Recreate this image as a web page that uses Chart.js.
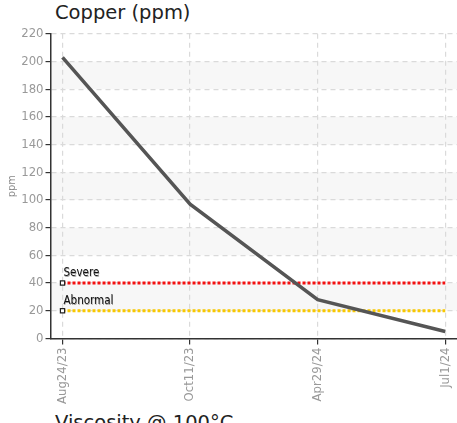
<!DOCTYPE html>
<html>
<head>
<meta charset="utf-8">
<script src="https://cdn.jsdelivr.net/npm/chart.js@4"></script>
<style>
  html, body { margin: 0; padding: 0; background: #fff; width: 457px; height: 423px; overflow: hidden; }
  .title { position: absolute; left: 55px; font-family: "DejaVu Sans", sans-serif; font-size: 19.5px; line-height: 24px; color: #222; }
  #t1 { top: 1px; }
  #t2 { top: 411px; }
  #wrap { position: absolute; left: 0; top: 24px; width: 464px; height: 383px; }
</style>
</head>
<body>
<div class="title" id="t1">Copper (ppm)</div>
<div id="wrap"><canvas id="chart"></canvas></div>
<div class="title" id="t2">Viscosity @ 100°C</div>
<script>
// -----------------------------
// Data
// -----------------------------
const sampleDates = ["Aug24/23", "Oct11/23", "Apr29/24", "Jul1/24"];
const copperPpm = [203, 97, 28, 5];
const severeLimit = [40, 40, 40, 40];
const abnormalLimit = [20, 20, 20, 20];
const limitNames = ["Severe", "Abnormal"];

const condFont = '"Liberation Sans Narrow", "DejaVu Sans Condensed", sans-serif';

function toPoints(arr) {
    return arr.map((v, i) => ({ x: i, y: v }));
}

// alternating light bands behind the grid
const bandsPlugin = {
    id: "bands",
    beforeDraw(chart) {
        const { ctx, chartArea, scales } = chart;
        const ys = scales.y;
        const ticks = ys.ticks.map(t => t.value);
        ctx.save();
        ctx.fillStyle = "#f7f7f7";
        for (let i = 0; i < ticks.length - 1; i++) {
            if (i % 2 === 1) {
                const top = ys.getPixelForValue(ticks[i + 1]);
                const bot = ys.getPixelForValue(ticks[i]);
                ctx.fillRect(chartArea.left, top, chartArea.right - chartArea.left, bot - top);
            }
        }
        ctx.restore();
    }
};

// "Severe" / "Abnormal" captions over the first limit point
const limitLabels = {
    id: "limitLabels",
    afterDatasetsDraw(chart) {
        const { ctx } = chart;
        ctx.save();
        ctx.font = "11.5px " + condFont;
        ctx.textBaseline = "bottom";
        [1, 2].forEach((di, k) => {
            const pt = chart.getDatasetMeta(di).data[0];
            ctx.fillStyle = "rgba(0,0,0,0.35)";
            ctx.fillText(limitNames[k], pt.x + 1.6, pt.y - 3.4);
            ctx.fillStyle = "#111";
            ctx.fillText(limitNames[k], pt.x + 1, pt.y - 4);
        });
        ctx.restore();
    }
};

new Chart(document.getElementById("chart"), {
    type: "line",
    data: {
        datasets: [
            {
                label: "Copper",
                data: toPoints(copperPpm),
                borderColor: "#555",
                borderWidth: 3.5,
                pointRadius: 0,
                tension: 0,
                order: 0
            },
            {
                label: limitNames[0],
                data: toPoints(severeLimit),
                borderColor: "#f41010",
                borderWidth: 3,
                borderDash: [3, 2],
                pointStyle: "rect",
                pointRadius: [3, 0, 0, 0],
                pointBorderColor: "#222",
                pointBorderWidth: 1.2,
                pointBackgroundColor: "#fff",
                order: 1
            },
            {
                label: limitNames[1],
                data: toPoints(abnormalLimit),
                borderColor: "#f8c800",
                borderWidth: 3,
                borderDash: [3, 2],
                pointStyle: "rect",
                pointRadius: [3, 0, 0, 0],
                pointBorderColor: "#222",
                pointBorderWidth: 1.2,
                pointBackgroundColor: "#fff",
                order: 2
            }
        ]
    },
    options: {
        responsive: true,
        maintainAspectRatio: false,
        animation: false,
        layout: { padding: { left: 6, right: 0, top: 4 } },
        plugins: { legend: { display: false }, tooltip: { enabled: false } },
        scales: {
            x: {
                type: "linear",
                min: -0.094,
                max: 3.094,
                ticks: {
                    stepSize: 1,
                    includeBounds: false,
                    autoSkip: false,
                    minRotation: 90,
                    maxRotation: 90,
                    color: "#999",
                    font: { family: condFont, size: 13 },
                    callback: v => sampleDates[v] || ""
                },
                grid: { color: "#dadada", tickColor: "#333", tickLength: 6, tickBorderDash: [], lineWidth: 1.2 },
                border: { color: "#333", width: 1.5, dash: [5, 4] }
            },
            y: {
                min: 0,
                max: 220,
                ticks: {
                    stepSize: 20,
                    color: "#999",
                    font: { family: condFont, size: 13 },
                    padding: 2
                },
                title: {
                    display: true,
                    text: "ppm",
                    color: "#888",
                    font: { family: condFont, size: 11 },
                    padding: 0
                },
                grid: { color: "#dadada", tickColor: "#333", tickLength: 5, tickBorderDash: [], lineWidth: 1.2 },
                border: { color: "#333", width: 1.5, dash: [5, 4] }
            }
        }
    },
    plugins: [bandsPlugin, limitLabels]
});
</script>
</body>
</html>
